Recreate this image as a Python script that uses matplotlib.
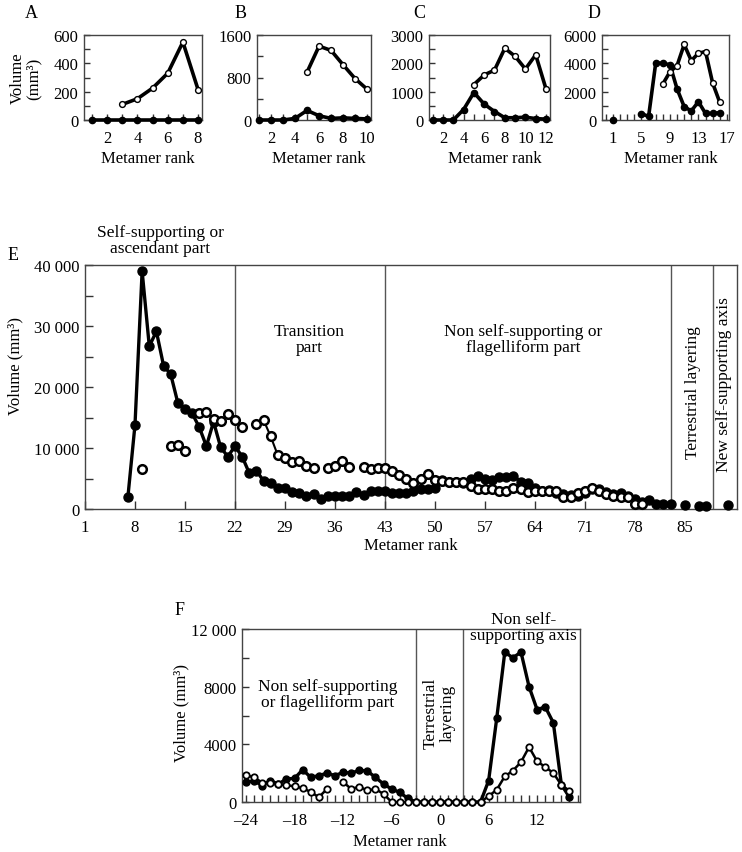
import numpy as np
import matplotlib.pyplot as plt
from matplotlib.ticker import FixedLocator, MultipleLocator

plt.rcParams['font.family'] = ['Liberation Serif', 'DejaVu Serif']
plt.rcParams['font.size'] = 12

nan = np.nan
W, H = 742, 853

# ---- panels A-D (filled = solid dots, hollow = open circles) ----
a_rank = [1, 2, 3, 4, 5, 6, 7, 8]
a_filled = [0, 0, 0, 0, 0, 0, 0, 0]
a_open_rank = [3, 4, 5, 6, 7, 8]
a_open = [110, 150, 225, 330, 550, 215]

b_rank = [1, 2, 3, 4, 5, 6, 7, 8, 9, 10]
b_filled = [0, 0, 0, 30, 180, 80, 30, 40, 30, 20]
b_open_rank = [5, 6, 7, 8, 9, 10]
b_open = [900, 1390, 1310, 1040, 780, 580]

c_rank = [1, 2, 3, 4, 5, 6, 7, 8, 9, 10, 11, 12]
c_filled = [0, 0, 0, 370, 970, 560, 300, 80, 80, 100, 50, 30]
c_open_rank = [5, 6, 7, 8, 9, 10, 11, 12]
c_open = [1250, 1590, 1760, 2530, 2250, 1800, 2300, 1100]

d_rank = [1, 2, 3, 4, 5, 6, 7, 8, 9, 10, 11, 12, 13, 14, 15, 16]
d_filled = [0, nan, nan, nan, 450, 250, 4020, 4000, 3900, 2200, 940, 640, 1290, 460, 460, 520]
d_open_rank = [8, 9, 10, 11, 12, 13, 14, 15, 16]
d_open = [2540, 3400, 3840, 5330, 4190, 4710, 4830, 2610, 1250]

# ---- panel E ----
e_filled_start = 7
e_filled = [1900, 13800, 39000, 26700, 29100, 23500, 22100, 17400, 16400, 15700,
            13400, 10300, 14300, 10100, 8600, 10300, 8600, 5900, 6300, 4600,
            4200, 3400, 3400, 2800, 2600, 2100, 2400, 1700, 2100, 2100,
            2100, 2100, 2800, 2300, 3000, 2900, 2900, 2700, 2600, 2700,
            3000, 3300, 3300, 3400, 4800, 4500, 4400, 4300, 4900, 5400,
            4900, 4700, 5200, 5300, 5400, 4500, 4200, 3500, 3000, 3100,
            2700, 2400, 2300, 2200, 2600, 3300, 3300, 2800, 2500, 2600,
            2200, 1600, 1100, 1500, 800, 800, 900]
e_loose_rank = [85, 87, 88, 91]
e_loose = [650, 440, 440, 650]
e_open_start = 9
e_open = [6600, nan, nan, nan, 10300, 10500, 9500, nan, 15700, 15900,
          14800, 14500, 15500, 14600, 13400, nan, 14000, 14600, 11900, 8800,
          8400, 7700, 7800, 7100, 6700, nan, 6700, 7100, 7900, 6900,
          nan, 6900, 6600, 6800, 6800, 6300, 5600, 4900, 4200, 5000,
          5800, 4800, 4600, 4400, 4400, 4500, 3700, 3300, 3300, 3300,
          2900, 2900, 3400, 3300, 2800, 3000, 3000, 2900, 2900, 2000,
          2000, 2700, 3000, 3400, 3000, 2400, 2100, 2000, 1900, 800, 800]
e_bounds = [22, 43, 83, 89]
e_xticks = [1, 8, 15, 22, 29, 36, 43, 50, 57, 64, 71, 78, 85]
e_yticks = [0, 10000, 20000, 30000, 40000]
e_ylabels = ['0', '10 000', '20 000', '30 000', '40 000']

# ---- panel F ----
f_start = -24
f_filled = [1370, 1480, 1130, 1480, 1250, 1600, 1640, 2240, 1710, 1830,
            2000, 1830, 2060, 2000, 2200, 2150, 1710, 1250, 900, 670,
            250, 0, 0, 0, 0, 0, 0, 0, 0, 0,
            1480, 5800, 10400, 10000, 10400, 8000, 6400, 6600, 5500, 1200, 330]
f_open = [1870, 1700, 1350, 1350, 1250, 1150, 1100, 950, 700, 330,
          900, nan, 1400, 900, 1060, 800, 900, 560, 0, 0,
          0, 0, 0, 0, 0, 0, 0, 0, 0, 0,
          400, 850, 1780, 2170, 2770, 3810, 2820, 2430, 2010, 1180, 780]
f_bounds = [-3, 2.8]
f_xticks = [-24, -18, -12, -6, 0, 6, 12]
f_xlabels = ['\u201324', '\u201318', '\u201312', '\u20136', '0', '6', '12']
f_yticks = [0, 4000, 8000, 12000]
f_ylabels = ['0', '4000', '8000', '12 000']


def px_rect(left, top, right, bottom):
    return [left / W, 1 - bottom / H, (right - left) / W, (bottom - top) / H]


def style_axis(ax, tick_len=5, xpad=6):
    for sp in ax.spines.values():
        sp.set_color('#444444')
        sp.set_linewidth(1.0)
    ax.tick_params(which='both', direction='in', top=False, right=False,
                   length=tick_len, width=1, color='#333333', pad=4)
    ax.tick_params(axis='x', which='both', pad=xpad)


fig = plt.figure(figsize=(W / 100, H / 100), dpi=100)

small = [
    ('A', (84, 121, 202), (0.48, 8.26), [2, 4, 6, 8], [0, 200, 400, 600], 100,
     a_rank, a_filled, a_open_rank, a_open, 25),
    ('B', (257, 121, 371), (0.83, 10.33), [2, 4, 6, 8, 10], [0, 800, 1600], 400,
     b_rank, b_filled, b_open_rank, b_open, 235),
    ('C', (429, 121, 550), (0.64, 12.39), [2, 4, 6, 8, 10, 12], [0, 1000, 2000, 3000], 500,
     c_rank, c_filled, c_open_rank, c_open, 413),
    ('D', (602, 121, 729), (-0.55, 17.3), [1, 5, 9, 13, 17], [0, 2000, 4000, 6000], 1000,
     d_rank, d_filled, d_open_rank, d_open, 588),
]

for name, (left, bottom, right), xlim, xt, yt, ymin, xr, yf, xo, yo, lab_x in small:
    ax = fig.add_axes(px_rect(left, 36, right, bottom))
    ax.plot(xr, yf, '-o', color='black', lw=2.6, ms=4.5, clip_on=False, zorder=3)
    ax.plot(xo, yo, '-o', color='black', lw=2.6, ms=4.2, mfc='white', mec='black',
            mew=1.0, clip_on=False, zorder=4)
    ax.set_xlim(*xlim)
    ax.set_ylim(yt[0], yt[-1])
    ax.xaxis.set_major_locator(FixedLocator(xt))
    ax.xaxis.set_minor_locator(MultipleLocator(1))
    ax.yaxis.set_major_locator(FixedLocator(yt))
    ax.yaxis.set_minor_locator(MultipleLocator(ymin))
    style_axis(ax, 4.5, xpad=7)
    ax.set_xlabel('Metamer rank', fontsize=12)
    ax.xaxis.set_label_coords(0.54, -0.35)
    fig.text(lab_x / W, 1 - 13 / H, name, fontsize=13, ha='left', va='center')
    if name == 'A':
        ax.set_ylabel('Volume\n(mm\u00b3)', fontsize=12, linespacing=0.95)
        ax.yaxis.set_label_coords(-0.36, 0.5)

# ---- panel E ----
ax = fig.add_axes(px_rect(85, 266, 737, 510))
ef_x = np.arange(len(e_filled)) + e_filled_start
eo_x = np.arange(len(e_open)) + e_open_start
for b in e_bounds:
    ax.axvline(b, color='#555555', lw=1.0, zorder=1)
ax.plot(ef_x, e_filled, '-o', color='black', lw=2.4, ms=6.5, clip_on=False, zorder=3)
ax.plot(e_loose_rank, e_loose, 'o', color='black', ms=6.5, clip_on=False, zorder=3)
ax.plot(eo_x, e_open, '-o', color='black', lw=1.5, ms=6.2, mfc='white', mec='black',
        mew=1.8, clip_on=False, zorder=4)
ax.set_xlim(1, 92.3)
ax.set_ylim(0, 40000)
ax.set_xticks(e_xticks)
ax.set_yticks(e_yticks)
ax.set_yticklabels(e_ylabels)
ax.yaxis.set_minor_locator(MultipleLocator(5000))
style_axis(ax, 6, xpad=7)
ax.set_xlabel('Metamer rank', fontsize=12)
ax.xaxis.set_label_coords(0.5, -0.115)
ax.set_ylabel('Volume (mm\u00b3)', fontsize=12)
ax.yaxis.set_label_coords(-0.095, 0.59)
ax.text(11.5, 44100, 'Self-supporting or\nascendant part', ha='center', va='center',
        fontsize=12.5, linespacing=1.05)
ax.text(32.4, 27900, 'Transition\npart', ha='center', va='center', fontsize=12.5,
        linespacing=1.05)
ax.text(62.4, 27900, 'Non self-supporting or\nflagelliform part', ha='center',
        va='center', fontsize=12.5, linespacing=1.05)
ax.text(86.2, 19200, 'Terrestrial layering', rotation=90, ha='center', va='center',
        fontsize=12.5)
ax.text(90.5, 20500, 'New self-supporting axis', rotation=90, ha='center', va='center',
        fontsize=12.5)
fig.text(8 / W, 1 - 255 / H, 'E', fontsize=13, ha='left', va='center')

# ---- panel F ----
ax = fig.add_axes(px_rect(242, 630, 580, 803))
f_x = np.arange(len(f_filled)) + f_start
for b in f_bounds:
    ax.axvline(b, color='#555555', lw=1.0, zorder=1)
ax.plot(f_x, f_filled, '-o', color='black', lw=2.4, ms=5, clip_on=False, zorder=3)
ax.plot(f_x, f_open, '-o', color='black', lw=1.8, ms=4.6, mfc='white', mec='black',
        mew=1.3, clip_on=False, zorder=4)
ax.set_xlim(-24.5, 17.3)
ax.set_ylim(0, 12000)
ax.set_xticks(f_xticks)
ax.set_xticklabels(f_xlabels)
ax.xaxis.set_minor_locator(MultipleLocator(1))
ax.set_yticks(f_yticks)
ax.set_yticklabels(f_ylabels)
ax.yaxis.set_minor_locator(MultipleLocator(2000))
style_axis(ax, 5, xpad=7)
ax.set_xlabel('Metamer rank', fontsize=12)
ax.xaxis.set_label_coords(0.467, -0.18)
ax.set_ylabel('Volume (mm\u00b3)', fontsize=12)
ax.yaxis.set_label_coords(-0.155, 0.52)
ax.text(-13.9, 7500, 'Non self-supporting\nor flagelliform part', ha='center',
        va='center', fontsize=12.5, linespacing=1.05)
ax.text(-0.1, 6250, 'Terrestrial\nlayering', rotation=90, ha='center', va='center',
        fontsize=12.5, linespacing=1.05)
ax.text(10.3, 12150, 'Non self-\nsupporting axis', ha='center', va='center',
        fontsize=12.5, linespacing=1.05)
fig.text(175 / W, 1 - 611 / H, 'F', fontsize=13, ha='left', va='center')

fig.savefig('out.png', dpi=100)
